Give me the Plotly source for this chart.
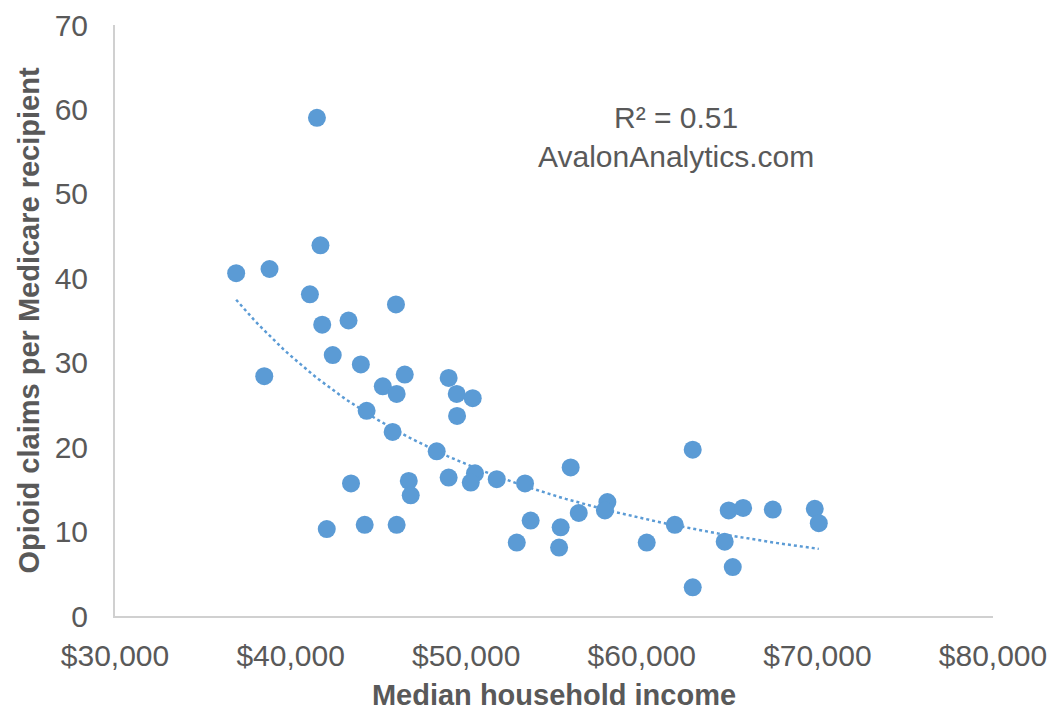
import numpy as np
import plotly.graph_objects as go

# median household income by state
income = [36900, 38800, 38500, 41500, 41700, 41100, 41800, 42400, 43300, 44000,
          46000, 45250, 46040, 46500, 44330, 45810, 43440, 46730, 46840, 42060,
          44220, 46040, 48320, 49000, 49460, 49480, 50370, 49000, 50500, 50260,
          51740, 53350, 53670, 52880, 55950, 55380, 55290, 56410, 58040, 57900,
          60280, 61880, 62900, 62900, 64720, 64950, 65180, 65770, 67460, 69850,
          70080]

# opioid claims per medicare recipient
claims = [40.6, 41.1, 28.4, 59.0, 43.9, 38.1, 34.5, 30.9, 35.0, 29.8,
          36.9, 27.2, 26.3, 28.6, 24.3, 21.8, 15.7, 16.0, 14.3, 10.3,
          10.8, 10.8, 19.5, 28.2, 26.3, 23.7, 25.8, 16.4, 16.9, 15.8,
          16.2, 15.7, 11.3, 8.7, 17.6, 10.5, 8.1, 12.2, 13.5, 12.5,
          8.7, 10.8, 19.7, 3.4, 8.8, 12.5, 5.8, 12.8, 12.6, 12.7,
          11.0]

x_ticks = [30000, 40000, 50000, 60000, 70000, 80000]
x_labels = ["$30,000", "$40,000", "$50,000", "$60,000", "$70,000", "$80,000"]
y_ticks = [0, 10, 20, 30, 40, 50, 60, 70]

blue = "#5B9BD5"
grey_text = "#595959"
font_family = "Liberation Sans, Arial, sans-serif"

# power trendline (like excel), fitted in log-log space
x = np.array(income, dtype=float)
y = np.array(claims, dtype=float)
b, log_a = np.polyfit(np.log(x), np.log(y), 1)
trend_x = np.linspace(x.min(), x.max(), 100)
trend_y = np.exp(log_a) * trend_x ** b

fig = go.Figure()

fig.add_trace(go.Scatter(
    x=trend_x, y=trend_y, mode="lines",
    line=dict(color=blue, width=2.5, dash="dot"),
    hoverinfo="skip", showlegend=False))

fig.add_trace(go.Scatter(
    x=income, y=claims, mode="markers",
    marker=dict(color=blue, size=18, line=dict(width=0)),
    showlegend=False))

fig.add_annotation(
    x=0.639, y=0.81, xref="paper", yref="paper", yanchor="middle",
    text="R² = 0.51<br>AvalonAnalytics.com", showarrow=False,
    font=dict(family=font_family, size=30, color=grey_text),
    align="center")

fig.update_xaxes(
    range=[30000, 80000], tickvals=x_ticks, ticktext=x_labels,
    showgrid=False, zeroline=False, showline=True, linecolor="#D0D0D0", linewidth=2,
    ticks="", ticklabelstandoff=12, ticklabeloverflow="allow",
    tickfont=dict(family=font_family, size=30, color=grey_text),
    title=dict(text="Median household income", standoff=14,
               font=dict(family=font_family, size=29, color=grey_text, weight="bold")))

fig.update_yaxes(
    range=[0, 70], tickvals=y_ticks,
    showgrid=False, zeroline=False, showline=True, linecolor="#D0D0D0", linewidth=2,
    ticks="", ticklabelstandoff=19, ticklabeloverflow="allow",
    tickfont=dict(family=font_family, size=30, color=grey_text),
    title=dict(text="Opioid claims per Medicare recipient", standoff=6,
               font=dict(family=font_family, size=29, color=grey_text, weight="bold")))

# page body has an 8px margin, so the figure is a bit smaller than the window
fig.update_layout(
    width=1049, height=709,
    margin=dict(l=107, r=64, t=17, b=101, autoexpand=False),
    plot_bgcolor="white", paper_bgcolor="white")

fig.write_html("out.html")
